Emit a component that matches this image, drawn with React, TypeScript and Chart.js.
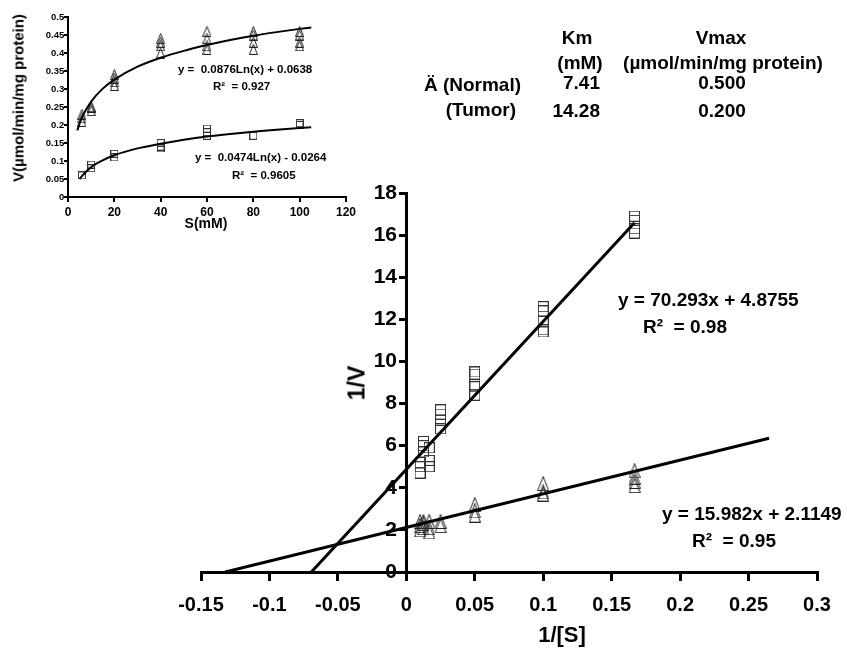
import React, { useEffect, useRef } from 'react';
import { Chart, registerables } from 'chart.js';

Chart.register(...registerables);

const FONT = '"Liberation Sans", Arial, Helvetica, sans-serif';

// ---------- Main Lineweaver-Burk plot data ----------
const invS = [0.01, 0.0125, 0.0167, 0.025, 0.05, 0.1, 0.1667];
const tumorInvV = [
  [4.7, 5.0, 5.2],
  [5.7, 6.0, 6.2],
  [5.0, 5.3, 5.9],
  [6.8, 7.2, 7.5, 7.7],
  [8.4, 8.8, 8.9, 9.4, 9.5],
  [11.4, 11.5, 11.9, 12.4, 12.6],
  [16.1, 16.3, 16.7, 16.9],
];
const normalInvV = [
  [2.0, 2.2, 2.4],
  [2.1, 2.3, 2.4],
  [1.9, 2.1, 2.4],
  [2.2, 2.4],
  [2.7, 2.9, 3.2],
  [3.7, 3.8, 4.2],
  [4.1, 4.3, 4.5, 4.8],
];
const tumorFitX = [-0.0694, 0.1667];
const tumorFitY = [0, 16.59];
const normalFitX = [-0.1323, 0.265];
const normalFitY = [0, 6.35];
const mainXTicks = ['-0.15', '-0.1', '-0.05', '0', '0.05', '0.1', '0.15', '0.2', '0.25', '0.3'];
const mainYTicks = ['0', '2', '4', '6', '8', '10', '12', '14', '16', '18'];

// ---------- Inset Michaelis-Menten plot data ----------
const sValues = [6, 10, 20, 40, 60, 80, 100];
const normalV = [
  [0.21, 0.22, 0.23],
  [0.24, 0.25, 0.25],
  [0.31, 0.32, 0.33, 0.34],
  [0.40, 0.42, 0.43, 0.44],
  [0.41, 0.42, 0.44, 0.46],
  [0.41, 0.43, 0.45, 0.46],
  [0.42, 0.43, 0.45, 0.46],
];
const tumorV = [
  [0.06],
  [0.08, 0.09],
  [0.11, 0.12],
  [0.135, 0.14, 0.15],
  [0.17, 0.18, 0.19],
  [0.17],
  [0.2, 0.205],
];
const normalCurveS = [4, 6, 10, 15, 20, 30, 40, 50, 60, 70, 80, 90, 100, 105];
const normalCurveV = [0.185, 0.221, 0.265, 0.301, 0.326, 0.362, 0.387, 0.406, 0.422, 0.436, 0.448, 0.458, 0.467, 0.471];
const tumorCurveS = [5, 6, 10, 15, 20, 30, 40, 50, 60, 70, 80, 90, 100, 105];
const tumorCurveV = [0.05, 0.058, 0.083, 0.102, 0.116, 0.135, 0.148, 0.159, 0.168, 0.175, 0.181, 0.187, 0.192, 0.194];
const insetXTicks = ['0', '20', '40', '60', '80', '100', '120'];
const insetYTicks = ['0', '0.05', '0.1', '0.15', '0.2', '0.25', '0.3', '0.35', '0.4', '0.45', '0.5'];

// ---------- Table ----------
const groupLabels = ['Ä (Normal)', '(Tumor)'];
const kmValues = ['7.41', '14.28'];
const vmaxValues = ['0.500', '0.200'];

function makeTriangle(w: number, h: number, color: string) {
  const c = document.createElement('canvas');
  c.width = w;
  c.height = h;
  const ctx = c.getContext('2d')!;
  ctx.strokeStyle = color;
  ctx.lineWidth = 1;
  ctx.beginPath();
  ctx.moveTo(w / 2, 0.5);
  ctx.lineTo(w - 0.5, h - 0.5);
  ctx.lineTo(0.5, h - 0.5);
  ctx.closePath();
  ctx.stroke();
  return c;
}

function makeSquare(w: number, h: number, color: string) {
  const c = document.createElement('canvas');
  c.width = w;
  c.height = h;
  const ctx = c.getContext('2d')!;
  ctx.strokeStyle = color;
  ctx.lineWidth = 1;
  ctx.strokeRect(0.5, 0.5, w - 1, h - 1);
  return c;
}

function pts(xs: number[], ys: number[][]) {
  return xs.flatMap((x, i) => ys[i].map((y) => ({ x, y })));
}
function line(xs: number[], ys: number[]) {
  return xs.map((x, i) => ({ x, y: ys[i] }));
}

type TProps = {
  x: number;
  y: number;
  size: number;
  align?: 'left' | 'center' | 'right';
  rotate?: boolean;
  children: React.ReactNode;
};
function T({ x, y, size, align = 'center', rotate = false, children }: TProps) {
  const tx = align === 'left' ? '0' : align === 'right' ? '-100%' : '-50%';
  return (
    <div
      style={{
        position: 'absolute',
        left: x,
        top: y,
        transform: `translate(${tx}, -50%)${rotate ? ' rotate(-90deg)' : ''}`,
        fontFamily: FONT,
        fontWeight: 'bold',
        fontSize: size,
        lineHeight: 1,
        whiteSpace: 'pre',
        color: '#000',
      }}
    >
      {children}
    </div>
  );
}

export default function App() {
  const mainRef = useRef<HTMLCanvasElement>(null);
  const insetRef = useRef<HTMLCanvasElement>(null);

  useEffect(() => {
    const triMain = makeTriangle(12, 15, '#222');
    const sqMain = makeSquare(11, 11, '#333');
    const triInset = makeTriangle(9, 11, '#222');
    const sqInset = makeSquare(8, 8, '#333');

    const main = new Chart(mainRef.current!, {
      type: 'scatter',
      data: {
        datasets: [
          { data: pts(invS, tumorInvV), pointStyle: sqMain as any, pointRadius: 5, showLine: false, order: 2 },
          { data: pts(invS, normalInvV), pointStyle: triMain as any, pointRadius: 5, showLine: false, order: 2 },
          {
            data: line(tumorFitX, tumorFitY),
            showLine: true,
            pointRadius: 0,
            borderColor: '#000',
            borderWidth: 3,
            order: 1,
          },
          {
            data: line(normalFitX, normalFitY),
            showLine: true,
            pointRadius: 0,
            borderColor: '#000',
            borderWidth: 3,
            order: 1,
          },
        ],
      },
      options: {
        animation: false,
        responsive: false,
        devicePixelRatio: 1,
        layout: { padding: { left: 201, top: 193, right: 30, bottom: 78 } },
        plugins: { legend: { display: false }, tooltip: { enabled: false } },
        scales: {
          x: {
            type: 'linear',
            position: { y: 0 } as any,
            min: -0.15,
            max: 0.3,
            ticks: {
              stepSize: 0.05,
              autoSkip: false,
              maxRotation: 0,
              padding: 14,
              color: '#000',
              font: { family: FONT, size: 20, weight: 'bold' },
              callback: (v: any) => mainXTicks[Math.round((Number(v) + 0.15) / 0.05)] ?? '',
            },
            grid: { drawOnChartArea: false, drawTicks: true, tickLength: 7, color: '#000', lineWidth: 3 },
            border: { display: true, color: '#000', width: 3 },
          },
          // axis line and tick marks at x = 0
          y: {
            type: 'linear',
            position: { x: 0 } as any,
            min: 0,
            max: 18,
            ticks: { stepSize: 2, display: false },
            grid: { drawOnChartArea: false, drawTicks: true, tickLength: 6, color: '#000', lineWidth: 3 },
            border: { display: true, color: '#000', width: 3 },
          },
          // tick labels, placed just left of the tick marks
          yLabels: {
            type: 'linear',
            axis: 'y',
            position: { x: -0.0068 } as any,
            min: 0,
            max: 18,
            ticks: {
              stepSize: 2,
              autoSkip: false,
              color: '#000',
              font: { family: FONT, size: 21, weight: 'bold' },
              callback: (v: any) => mainYTicks[Math.round(Number(v) / 2)] ?? '',
            },
            grid: { display: false, drawTicks: false },
            border: { display: false },
          },
        },
      },
    } as any);

    const inset = new Chart(insetRef.current!, {
      type: 'scatter',
      data: {
        datasets: [
          { data: pts(sValues, normalV), pointStyle: triInset as any, pointRadius: 4, showLine: false, order: 2 },
          { data: pts(sValues, tumorV), pointStyle: sqInset as any, pointRadius: 4, showLine: false, order: 2 },
          {
            data: line(normalCurveS, normalCurveV),
            showLine: true,
            pointRadius: 0,
            borderColor: '#000',
            borderWidth: 2,
            cubicInterpolationMode: 'monotone',
            order: 1,
          },
          {
            data: line(tumorCurveS, tumorCurveV),
            showLine: true,
            pointRadius: 0,
            borderColor: '#000',
            borderWidth: 2,
            cubicInterpolationMode: 'monotone',
            order: 1,
          },
        ],
      },
      options: {
        animation: false,
        responsive: false,
        devicePixelRatio: 1,
        layout: { padding: { left: 68, top: 17, right: 13, bottom: 38 } },
        plugins: { legend: { display: false }, tooltip: { enabled: false } },
        scales: {
          x: {
            type: 'linear',
            position: { y: 0 } as any,
            min: 0,
            max: 120,
            ticks: {
              stepSize: 20,
              autoSkip: false,
              maxRotation: 0,
              padding: 4,
              color: '#000',
              font: { family: FONT, size: 12, weight: 'bold' },
              callback: (v: any) => insetXTicks[Math.round(Number(v) / 20)] ?? '',
            },
            grid: { drawOnChartArea: false, drawTicks: true, tickLength: 4, color: '#000', lineWidth: 2 },
            border: { display: true, color: '#000', width: 2 },
          },
          y: {
            type: 'linear',
            position: { x: 0 } as any,
            min: 0,
            max: 0.5,
            ticks: { stepSize: 0.05, display: false },
            grid: { drawOnChartArea: false, drawTicks: true, tickLength: 3, color: '#000', lineWidth: 2 },
            border: { display: true, color: '#000', width: 2 },
          },
          yLabels: {
            type: 'linear',
            axis: 'y',
            position: { x: -1.6 } as any,
            min: 0,
            max: 0.5,
            ticks: {
              stepSize: 0.05,
              autoSkip: false,
              color: '#000',
              font: { family: FONT, size: 9.5, weight: 'bold' },
              callback: (v: any) => insetYTicks[Math.round(Number(v) / 0.05)] ?? '',
            },
            grid: { display: false, drawTicks: false },
            border: { display: false },
          },
        },
      },
    } as any);

    return () => {
      main.destroy();
      inset.destroy();
    };
  }, []);

  return (
    <div style={{ position: 'absolute', left: 0, top: 0, width: 847, height: 650, background: '#fff', overflow: 'hidden' }}>
      <canvas ref={mainRef} width={847} height={650} style={{ position: 'absolute', left: 0, top: 0 }} />
      <canvas ref={insetRef} width={360} height={235} style={{ position: 'absolute', left: 0, top: 0 }} />

      {/* main axis titles */}
      <T x={357} y={383} size={23} rotate>1/V</T>
      <T x={562} y={635} size={22}>1/[S]</T>

      {/* main trendline equations */}
      <T x={618} y={299} size={19} align="left">y = 70.293x + 4.8755</T>
      <T x={643} y={326} size={19} align="left">R²  = 0.98</T>
      <T x={662} y={513} size={19} align="left">y = 15.982x + 2.1149</T>
      <T x={692} y={540} size={19} align="left">R²  = 0.95</T>

      {/* inset titles and equations */}
      <T x={18} y={98} size={15} rotate>V(µmol/min/mg protein)</T>
      <T x={206} y={223} size={14}>S(mM)</T>
      <T x={178} y={70} size={11.5} align="left">y =  0.0876Ln(x) + 0.0638</T>
      <T x={213} y={87} size={11.5} align="left">R²  = 0.927</T>
      <T x={195} y={158} size={11.5} align="left">y =  0.0474Ln(x) - 0.0264</T>
      <T x={232} y={176} size={11.5} align="left">R²  = 0.9605</T>

      {/* kinetic constants table */}
      <T x={577} y={37} size={19}>Km</T>
      <T x={580} y={62} size={19}>(mM)</T>
      <T x={721} y={37} size={19}>Vmax</T>
      <T x={723} y={62} size={19}>(µmol/min/mg protein)</T>
      <T x={521} y={84} size={19} align="right">{groupLabels[0]}</T>
      <T x={516} y={109} size={19} align="right">{groupLabels[1]}</T>
      <T x={600} y={82} size={19} align="right">{kmValues[0]}</T>
      <T x={600} y={110} size={19} align="right">{kmValues[1]}</T>
      <T x={722} y={82} size={19}>{vmaxValues[0]}</T>
      <T x={722} y={110} size={19}>{vmaxValues[1]}</T>
    </div>
  );
}
